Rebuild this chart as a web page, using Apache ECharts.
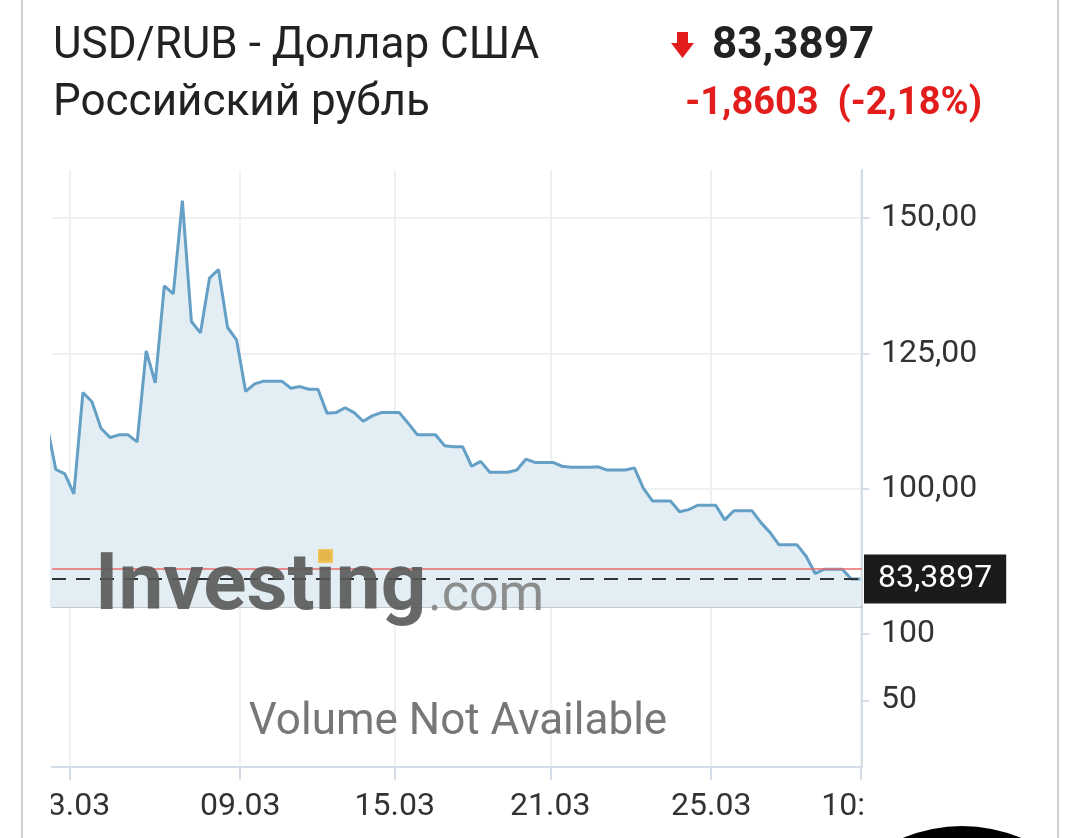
<!DOCTYPE html>
<html><head><meta charset="utf-8">
<script src="https://cdn.jsdelivr.net/npm/echarts@6/dist/echarts.min.js"></script>
<style>html,body{margin:0;padding:0;background:#fff;}#c{width:1080px;height:838px;}</style>
</head><body><div id="c"></div>
<script>
// Price series (first value sits just left of the visible window)
const prices = [112.0,
  103.6,102.8,99.1,117.8,116.1,111.2,109.5,110.0,110.0,108.7,
  125.5,119.6,137.5,136.0,153.2,130.9,128.8,138.9,140.5,129.8,
  127.5,118.0,119.4,119.9,119.9,119.9,118.6,118.9,118.4,118.4,
  114.0,114.1,115.0,114.1,112.5,113.5,114.1,114.1,114.1,112.1,
  110.0,110.0,110.0,108.0,107.8,107.8,104.2,105.1,103.1,103.1,
  103.1,103.5,105.5,104.9,104.9,104.9,104.2,104.0,104.0,104.0,
  104.1,103.5,103.5,103.5,103.9,100.1,97.8,97.8,97.8,95.8,
  96.2,97.0,97.0,97.0,94.3,96.0,96.0,96.0,93.8,92.0,
  89.7,89.7,89.7,87.6,84.4,85.2,85.2,85.2,83.39,83.39];
const priceTicks = [100, 125, 150];
const volumeTicks = [50, 100];
const xTickPos = [1.57, 20.4, 37.5, 54.7, 72.5, 89.07];
const xTickLabels = ['03.03', '09.03', '15.03', '21.03', '25.03', '10:00'];
const lastPrice = 83.3897;
const change = -1.8603;
const changePct = -2.18;
const prevClose = lastPrice - change;
const titleLine1 = 'USD/RUB - Доллар США';
const titleLine2 = 'Российский рубль';
const volumeNote = 'Volume Not Available';

const fmt = (v, d) => v.toFixed(d).replace('.', ',');
const FONT = 'Roboto';
const AX = '#d3dde7';
const GRIDC = '#eef1f4';

const chart = echarts.init(document.getElementById('c'), null, {renderer: 'canvas'});
const seriesData = prices.map((v, i) => [i - 1, v]);

chart.setOption({
  animation: false,
  backgroundColor: '#fff',
  grid: [
    {left: 52, right: 218, top: 170, height: 437},
    {left: 52, right: 218, top: 607, height: 160}
  ],
  xAxis: [
    {type: 'value', gridIndex: 0, min: -0.42, max: 89.18,
     axisLine: {show: true, onZero: false, lineStyle: {color: '#c8c8c8', width: 2}},
     axisTick: {show: false, customValues: xTickPos},
     axisLabel: {show: false, customValues: xTickPos},
     splitLine: {show: true, lineStyle: {color: GRIDC, width: 2}}},
    {type: 'value', gridIndex: 1, min: -0.42, max: 89.18,
     axisLine: {show: true, onZero: false, lineStyle: {color: AX, width: 2}},
     axisTick: {show: true, length: 13, customValues: xTickPos, lineStyle: {color: AX, width: 2}},
     axisLabel: {show: true, customValues: xTickPos, margin: 24, fontFamily: FONT, fontSize: 32, color: '#333',
       formatter: v => { const i = xTickPos.findIndex(p => Math.abs(p - v) < 1e-6); return i >= 0 ? xTickLabels[i] : ''; }},
     splitLine: {show: true, lineStyle: {color: GRIDC, width: 2}}}
  ],
  yAxis: [
    {type: 'value', gridIndex: 0, position: 'right', min: 78.23, max: 158.86,
     axisLine: {show: true, onZero: false, lineStyle: {color: AX, width: 2}},
     axisTick: {show: true, length: 7, customValues: priceTicks, lineStyle: {color: AX, width: 2}},
     axisLabel: {show: true, customValues: priceTicks, margin: 19, fontFamily: FONT, fontSize: 32, color: '#333',
       formatter: v => fmt(v, 2)},
     splitLine: {show: true, lineStyle: {color: GRIDC, width: 2}}},
    {type: 'value', gridIndex: 1, position: 'right', min: 0, max: 120,
     axisLine: {show: true, onZero: false, lineStyle: {color: AX, width: 2}},
     axisTick: {show: true, length: 7, customValues: volumeTicks, lineStyle: {color: AX, width: 2}},
     axisLabel: {show: true, customValues: volumeTicks, margin: 19, fontFamily: FONT, fontSize: 32, color: '#333'},
     splitLine: {show: false}}
  ],
  series: [{
    type: 'line', xAxisIndex: 0, yAxisIndex: 0, data: seriesData,
    symbol: 'none', clip: true,
    lineStyle: {color: '#64a0c5', width: 3},
    areaStyle: {color: '#e3edf4', opacity: 1},
    markLine: {
      silent: true, symbol: 'none', animation: false,
      data: [
        {yAxis: prevClose, lineStyle: {color: '#e86a6a', width: 1.5, type: 'solid'}, label: {show: false}},
        {yAxis: lastPrice, lineStyle: {color: '#333', width: 2, type: [14, 10]},
         label: {show: true, position: 'end', distance: 2, formatter: fmt(lastPrice, 4),
           backgroundColor: '#1b1b1b', color: '#fff', fontFamily: FONT, fontSize: 32, padding: [9, 14, 8, 14]}}
      ]
    }
  }],
  graphic: [
    {type: 'line', shape: {x1: 22, y1: 0, x2: 22, y2: 838}, style: {stroke: '#cfcfcf', lineWidth: 2}},
    {type: 'line', shape: {x1: 1058, y1: 0, x2: 1058, y2: 838}, style: {stroke: '#cfcfcf', lineWidth: 2}},
    {type: 'text', x: 53, y: 47, style: {text: titleLine1, font: '44px Roboto', fill: '#222', verticalAlign: 'middle'}},
    {type: 'text', x: 53, y: 104, style: {text: titleLine2, font: '44px Roboto', fill: '#222', verticalAlign: 'middle'}},
    {type: 'polygon', shape: {points: [[677,32],[688,32],[688,43],[694,43],[682.5,58],[671,43],[677,43]]}, style: {fill: '#e31c1c'}},
    {type: 'text', x: 712, y: 47, style: {text: fmt(lastPrice, 4), font: 'bold 44px Roboto', fill: '#222', verticalAlign: 'middle'}},
    {type: 'text', x: 982, y: 104, style: {text: fmt(change, 4) + '  (' + fmt(changePct, 2) + '%)', font: 'bold 38px Roboto', fill: '#e31c1c', align: 'right', verticalAlign: 'middle'}},
    {type: 'text', x: 95, y: 589, z: 50, style: {text: 'Investing', font: 'bold 80px Roboto', fill: 'rgba(88,88,88,0.9)', verticalAlign: 'middle'}},
    {type: 'text', x: 428, y: 597, z: 50, style: {text: '.com', font: '52px Roboto', fill: 'rgba(130,130,130,0.9)', verticalAlign: 'middle'}},
    {type: 'rect', z: 51, shape: {x: 318, y: 549, width: 15, height: 14}, style: {fill: 'rgba(242,190,70,0.9)'}},
    {type: 'text', x: 458, y: 723, z: 50, style: {text: volumeNote, font: '44px Roboto', fill: '#777', align: 'center', verticalAlign: 'middle'}},
    {type: 'rect', z: 60, shape: {x: 23, y: 780, width: 28, height: 50}, style: {fill: '#fff'}},
    {type: 'rect', z: 60, shape: {x: 864, y: 780, width: 193, height: 50}, style: {fill: '#fff'}},
    {type: 'circle', z: 61, shape: {cx: 962, cy: 978, r: 152}, style: {fill: '#000'}}
  ]
});
</script></body></html>
